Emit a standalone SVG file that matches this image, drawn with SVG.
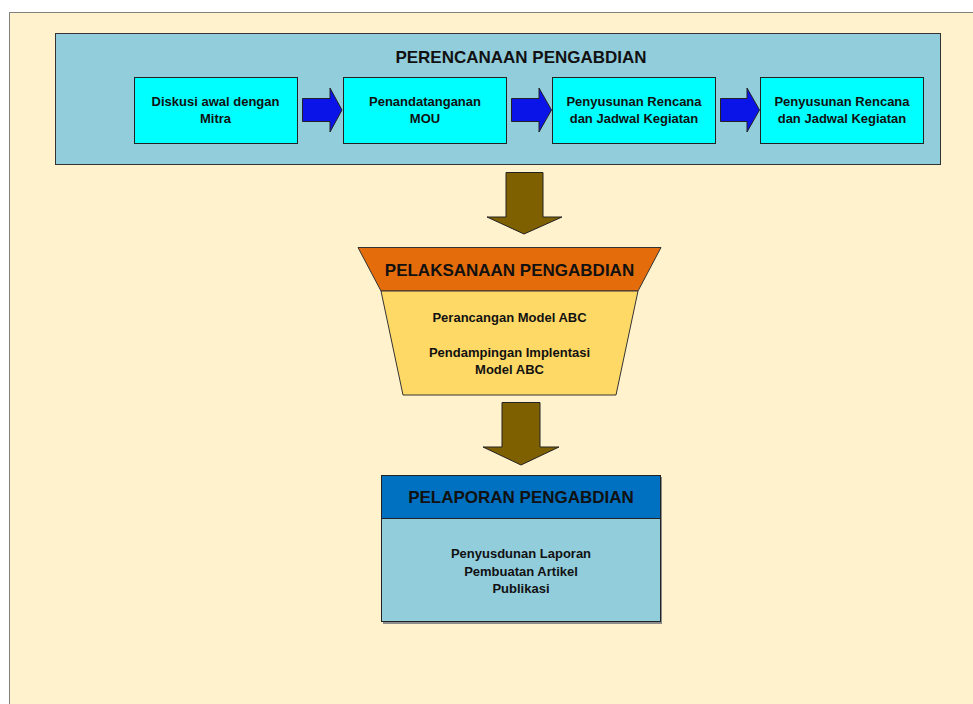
<svg xmlns="http://www.w3.org/2000/svg" width="973" height="704" viewBox="0 0 973 704">
<style>
text{font-family:"Liberation Sans",Arial,sans-serif;font-weight:bold;fill:#111;text-anchor:middle}
.t17{font-size:17px}
.t13{font-size:13px}
.step{fill:#00FFFF;stroke:#222;stroke-width:1}
.barrow{fill:#0A14E8;stroke:#222;stroke-width:1}
.darrow{fill:#7F6000;stroke:#222;stroke-width:1}
</style>
<rect x="0" y="0" width="973" height="704" fill="#FFFFFF"/>
<rect id="background" x="9.5" y="12.5" width="980" height="710" fill="#FFF2CC" stroke="#808080" stroke-width="1"/>
<g id="perencanaan">
<rect x="55.5" y="33.5" width="885" height="131" fill="#92CDDC" stroke="#333" stroke-width="1"/>
<text class="t17" x="521" y="63">PERENCANAAN PENGABDIAN</text>
</g>
<g id="step1">
<rect class="step" x="134.5" y="77.5" width="163" height="66"/>
<text class="t13" x="215.5" y="106">Diskusi awal dengan</text>
<text class="t13" x="215.5" y="123">Mitra</text>
</g>
<g id="step2">
<rect class="step" x="343.5" y="77.5" width="163" height="66"/>
<text class="t13" x="425" y="106">Penandatanganan</text>
<text class="t13" x="425" y="123">MOU</text>
</g>
<g id="step3">
<rect class="step" x="552.5" y="77.5" width="163" height="66"/>
<text class="t13" x="634" y="106">Penyusunan Rencana</text>
<text class="t13" x="634" y="123">dan Jadwal Kegiatan</text>
</g>
<g id="step4">
<rect class="step" x="760.5" y="77.5" width="163" height="66"/>
<text class="t13" x="842" y="106">Penyusunan Rencana</text>
<text class="t13" x="842" y="123">dan Jadwal Kegiatan</text>
</g>
<g id="pelaksanaan">
<polygon points="358,247.5 661,247.5 638,291 381,291" fill="#E46C0A" stroke="#333" stroke-width="1"/>
<polygon points="381,291 638,291 616,395 403,395" fill="#FFD966" stroke="#333" stroke-width="1"/>
<text class="t17" x="509.5" y="276">PELAKSANAAN PENGABDIAN</text>
<text class="t13" x="509.5" y="322">Perancangan Model ABC</text>
<text class="t13" x="509.5" y="357">Pendampingan Implentasi</text>
<text class="t13" x="509.5" y="374">Model ABC</text>
</g>
<g id="pelaporan">
<rect x="383" y="477" width="279" height="147" fill="#8C8C8C"/>
<rect x="381.5" y="518.5" width="279" height="103" fill="#92CDDC" stroke="#222" stroke-width="1"/>
<rect x="381.5" y="475.5" width="279" height="43" fill="#0070C0" stroke="#222" stroke-width="1"/>
<text class="t17" x="521" y="503">PELAPORAN PENGABDIAN</text>
<text class="t13" x="521" y="558">Penyusdunan Laporan</text>
<text class="t13" x="521" y="576">Pembuatan Artikel</text>
<text class="t13" x="521" y="593">Publikasi</text>
</g>
<g id="connectors">
<polygon class="barrow" points="302.5,98.5 330,98.5 330,88 342,110 330,132 330,121.5 302.5,121.5"/>
<polygon class="barrow" points="511.5,98.5 539,98.5 539,88 551.5,110 539,132 539,121.5 511.5,121.5"/>
<polygon class="barrow" points="720.5,98.5 747,98.5 747,88 759.5,110 747,132 747,121.5 720.5,121.5"/>
<polygon class="darrow" points="506,172.5 543,172.5 543,217 562,217 524,234 487,217 506,217"/>
<polygon class="darrow" points="502,402.5 540,402.5 540,447 559,447 521,465 483,447 502,447"/>
</g>
</svg>
